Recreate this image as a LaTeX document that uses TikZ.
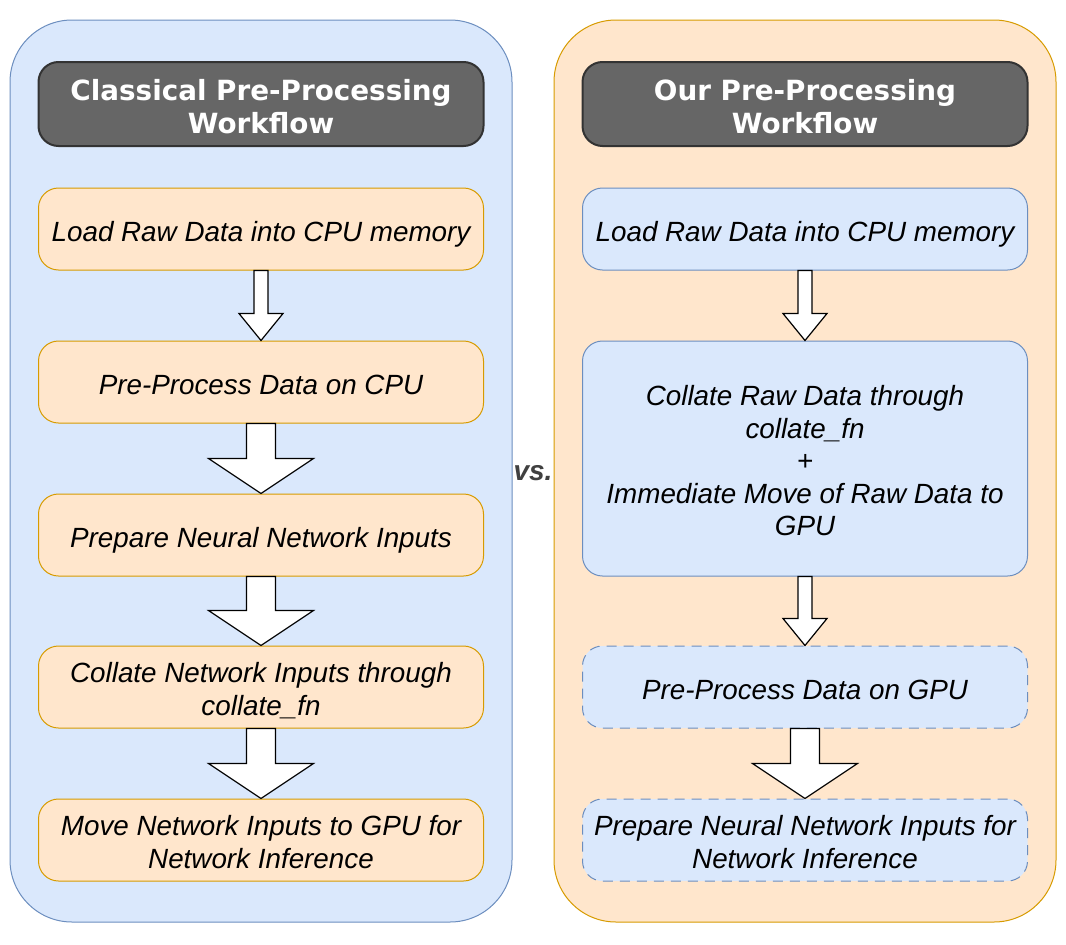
\documentclass[tikz,border=0pt]{standalone}
\usepackage{fontspec}
\setmainfont{Liberation Sans}
\newfontfamily\titlefont{DejaVu Sans}
\usetikzlibrary{calc}
\definecolor{bluefill}{HTML}{DAE8FC}
\definecolor{bluedraw}{HTML}{6C8EBF}
\definecolor{orfill}{HTML}{FFE6CC}
\definecolor{ordraw}{HTML}{D79B00}
\definecolor{hdrfill}{HTML}{666666}
\definecolor{hdrdraw}{HTML}{333333}
\definecolor{vscol}{HTML}{404040}
\newcommand{\boxtext}[2]{\raisebox{#1}[\height][\depth]{\begin{tabular}{@{}c@{}}#2\end{tabular}}}
\tikzset{
  container/.style={rectangle, rounded corners=62pt, minimum width=502pt, minimum height=902pt, inner sep=0pt, line width=1pt},
  bluecont/.style={container, fill=bluefill, draw=bluedraw},
  orcont/.style={container, fill=orfill, draw=ordraw},
  header/.style={rectangle, rounded corners=20pt, minimum width=445pt, minimum height=84pt, inner sep=0pt,
    fill=hdrfill, draw=hdrdraw, line width=2pt, text=white,
    font=\titlefont\bfseries\fontsize{27.8}{33}\selectfont},
  box/.style={rectangle, rounded corners=20pt, minimum width=445pt, minimum height=82pt, inner sep=0pt,
    line width=1pt, font=\itshape\fontsize{27.8}{32.5}\selectfont},
  orbox/.style={box, fill=orfill, draw=ordraw},
  bluebox/.style={box, fill=bluefill, draw=bluedraw},
  dashbox/.style={bluebox, dash pattern=on 10pt off 7pt},
  blockarr/.style={fill=white, draw=black, line width=1.2pt, line join=miter},
}
% #1 from node, #2 to node, #3 shaft half width, #4 head half width, #5 head length
\newcommand{\blockarrow}[5]{%
  \draw[blockarr] ($(#1.south)+(-#3,0)$) -- ($(#2.north)+(-#3,-#5)$) -- ($(#2.north)+(-#4,-#5)$)
    -- (#2.north) -- ($(#2.north)+(#4,-#5)$) -- ($(#2.north)+(#3,-#5)$) -- ($(#1.south)+(#3,0)$) -- cycle;}
\begin{document}
\begin{tikzpicture}[x=1pt,y=-1pt]
\useasboundingbox (0,0) rectangle (1066,945);
% containers
\node[bluecont] (lc) at (261,471) {};
\node[orcont] (rc) at (805,471) {};
% headers
\node[header] (lh) at (261,104) {\boxtext{-6pt}{Classical Pre-Processing\\Workflow}};
\node[header] (rh) at (805,104) {\boxtext{-6pt}{Our Pre-Processing\\Workflow}};
% left boxes
\node[orbox] (l1) at (261,229) {\boxtext{-5.5pt}{Load Raw Data into CPU memory}};
\node[orbox] (l2) at (261,382) {\boxtext{-5.5pt}{Pre-Process Data on CPU}};
\node[orbox] (l3) at (261,535) {\boxtext{-5.5pt}{Prepare Neural Network Inputs}};
\node[orbox] (l4) at (261,687) {\boxtext{-5.5pt}{Collate Network Inputs through\\collate\_fn}};
\node[orbox] (l5) at (261,840) {\boxtext{-5.5pt}{Move Network Inputs to GPU for\\Network Inference}};
% right boxes
\node[bluebox] (r1) at (805,229) {\boxtext{-5.5pt}{Load Raw Data into CPU memory}};
\node[bluebox, minimum height=235pt] (r2) at (805,458.5) {\boxtext{-5.5pt}{Collate Raw Data through\\collate\_fn\\+\\Immediate Move of Raw Data to\\GPU}};
\node[dashbox] (r3) at (805,687) {\boxtext{-5.5pt}{Pre-Process Data on GPU}};
\node[dashbox] (r4) at (805,840) {\boxtext{-5.5pt}{Prepare Neural Network Inputs for\\Network Inference}};
% vs
\node[font=\bfseries\itshape\fontsize{28}{32}\selectfont, text=vscol, inner sep=0pt] (vs) at (533,473) {vs.};
% arrows
\blockarrow{l1}{l2}{7}{22}{27}
\blockarrow{l2}{l3}{14.5}{52.5}{35}
\blockarrow{l3}{l4}{14.5}{52.5}{35}
\blockarrow{l4}{l5}{14.5}{52.5}{35}
\blockarrow{r1}{r2}{7}{22}{27}
\blockarrow{r2}{r3}{7}{22}{27}
\blockarrow{r3}{r4}{14.5}{52.5}{35}
\end{tikzpicture}
\end{document}
